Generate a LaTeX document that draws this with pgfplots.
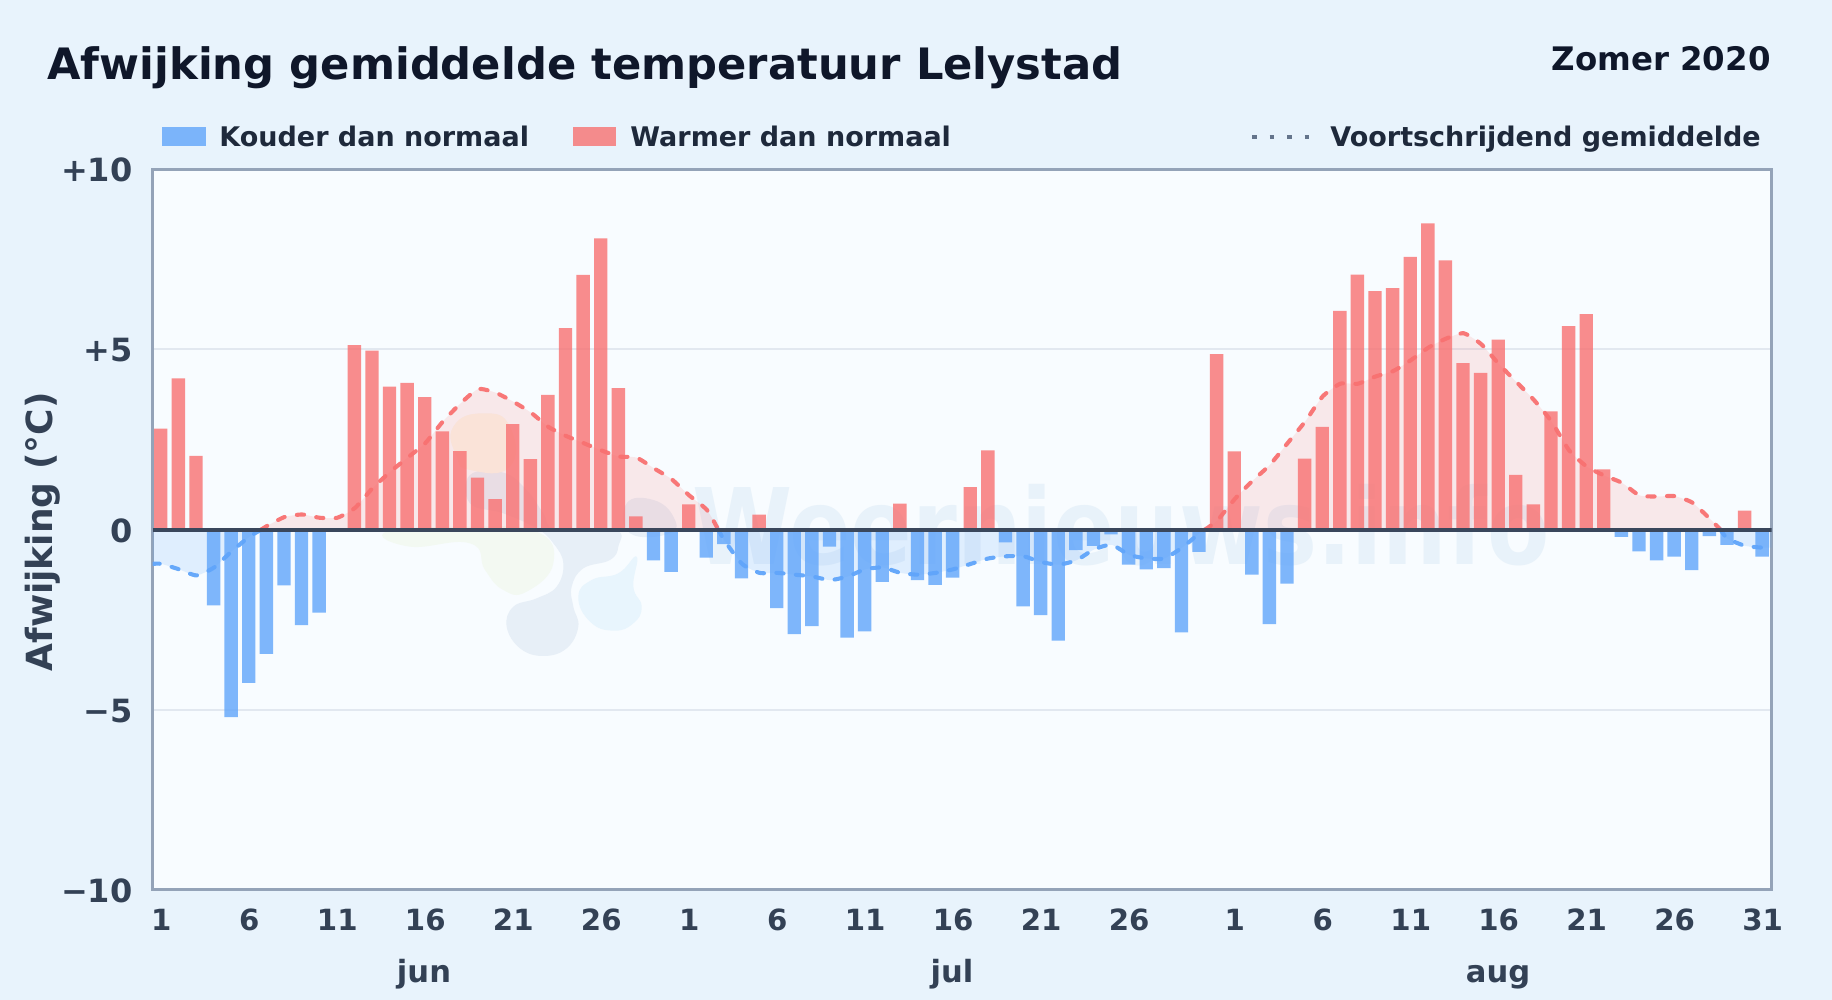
\documentclass[border=0pt]{standalone}
\usepackage{fontspec}
\setmainfont{DejaVu Sans}
\usepackage{pgfplots}
\pgfplotsset{compat=1.18}
\usepackage{pgfplotstable}
\definecolor{pagebg}{HTML}{E8F3FC}
\definecolor{plotbg}{HTML}{F8FCFF}
\definecolor{frame}{HTML}{94A3B8}
\definecolor{gridc}{HTML}{E2E8F0}
\definecolor{zeroc}{HTML}{3A475C}
\definecolor{cold}{HTML}{60A5FA}
\definecolor{warm}{HTML}{F87171}
\definecolor{titlec}{HTML}{0F172A}
\definecolor{legc}{HTML}{1E293B}
\definecolor{tickc}{HTML}{334155}
\definecolor{dotc}{HTML}{64748B}
\definecolor{wmtext}{HTML}{E8F2FA}
\definecolor{wmgray}{HTML}{E7EFF7}
\definecolor{wmgreen}{HTML}{F3F9F2}
\definecolor{wmblue}{HTML}{E8F5FD}
\definecolor{wmorange}{HTML}{FBF6E9}
\pgfplotstableread{
day dev
1 2.8
2 4.2
3 2.05
12 5.12
13 4.97
14 3.97
15 4.07
16 3.68
17 2.73
18 2.18
19 1.44
20 0.85
21 2.93
22 1.96
23 3.74
24 5.59
25 7.07
26 8.08
27 3.93
28 0.37
31 0.7
35 0.42
43 0.72
47 1.18
48 2.2
61 4.87
62 2.17
66 1.97
67 2.85
68 6.07
69 7.08
70 6.62
71 6.7
72 7.57
73 8.5
74 7.47
75 4.62
76 4.35
77 5.27
78 1.52
79 0.7
80 3.28
81 5.65
82 5.98
83 1.67
91 0.53
}\warmdata
\pgfplotstableread{
day dev
4 -2.1
5 -5.2
6 -4.25
7 -3.45
8 -1.55
9 -2.65
10 -2.3
29 -0.85
30 -1.17
32 -0.78
33 -0.4
34 -1.35
36 -2.18
37 -2.9
38 -2.68
39 -0.47
40 -3.0
41 -2.82
42 -1.45
44 -1.4
45 -1.53
46 -1.33
49 -0.35
50 -2.13
51 -2.37
52 -3.08
53 -0.57
54 -0.45
55 -0.13
56 -0.97
57 -1.1
58 -1.07
59 -2.85
60 -0.62
63 -1.25
64 -2.62
65 -1.5
84 -0.2
85 -0.6
86 -0.85
87 -0.75
88 -1.12
89 -0.18
90 -0.42
92 -0.75
}\colddata
\pgfplotstableread{
day avg
0.5 -0.95
1 -0.95
2 -1.1
3 -1.27
4 -1.05
5 -0.6
6 -0.2
6.67 0
}\avgA
\pgfplotstableread{
day avg
6.67 0
7 0.1
8 0.35
9 0.42
10 0.33
11 0.33
12 0.6
13 1.15
14 1.6
15 2.0
16 2.4
17 3.0
18 3.5
19 3.9
20 3.8
21 3.55
22 3.25
23 2.85
24 2.6
25 2.4
26 2.2
27 2.03
28 2.0
29 1.7
30 1.4
31 0.95
32 0.55
32.65 0
}\avgB
\pgfplotstableread{
day avg
32.65 0
33 -0.3
34 -0.95
35 -1.2
36 -1.2
37 -1.25
38 -1.3
39 -1.4
40 -1.3
41 -1.1
42 -1.05
43 -1.2
44 -1.25
45 -1.2
46 -1.1
47 -0.95
48 -0.8
49 -0.74
50 -0.74
51 -0.9
52 -0.97
53 -0.85
54 -0.55
55 -0.42
56 -0.7
57 -0.8
58 -0.8
59 -0.5
60 -0.1
60.3 0
}\avgC
\pgfplotstableread{
day avg
60.3 0
61 0.25
62 0.85
63 1.35
64 1.8
65 2.4
66 3.0
67 3.7
68 4.05
69 4.05
70 4.25
71 4.4
72 4.7
73 5.05
74 5.3
75 5.45
76 5.15
77 4.6
78 4.1
79 3.6
80 3.0
81 2.2
82 1.75
83 1.5
84 1.3
85 0.95
86 0.92
87 0.93
88 0.75
89 0.3
89.6 0
}\avgD
\pgfplotstableread{
day avg
89.6 0
90 -0.25
91 -0.45
92 -0.5
92.5 -0.5
}\avgE
\pgfplotsset{
  areaw/.style={draw=none,fill=warm,fill opacity=.14,smooth,tension=.35,forget plot},
  areac/.style={draw=none,fill=cold,fill opacity=.16,smooth,tension=.35,forget plot},
  linew/.style={warm,opacity=.95,line width=2.05pt,line cap=round,dash pattern=on 3.6pt off 6.2pt,smooth,tension=.35,no markers,forget plot},
  linec/.style={cold,opacity=.95,line width=2.05pt,line cap=round,dash pattern=on 3.6pt off 6.2pt,smooth,tension=.35,no markers,forget plot},
  barw/.style={ybar,bar shift=-0.03,bar width=0.76,draw=none,fill=warm,fill opacity=.8,forget plot},
  barc/.style={ybar,bar shift=-0.03,bar width=0.76,draw=none,fill=cold,fill opacity=.8,forget plot},
}
\begin{document}
\begin{tikzpicture}[x=0.5pt,y=0.5pt]
\fill[pagebg] (0,0) rectangle (1832,1000);
\fill[plotbg] (152.5,110) rectangle (1771.5,830.7);
% watermark logo
\begin{scope}[shift={(370,600)}]
\begin{scope}[x=0.16667pt,y=-0.16667pt]
\fill[wmgreen] plot[smooth cycle,tension=.8] coordinates {(50,395)(300,380)(500,395)(550,490)(470,575)(400,570)(345,510)(300,430)(120,440)};
\fill[wmgray] plot[smooth cycle,tension=.7] coordinates {(300,225)(400,218)(470,270)(520,340)(560,390)(735,390)(745,440)(720,480)(640,505)(605,560)(610,620)(625,680)(590,745)(520,768)(450,745)(410,680)(430,620)(500,595)(560,560)(580,490)(550,430)(500,385)(400,340)(300,310)};
\fill[wmgray] plot[smooth cycle,tension=.8] coordinates {(770,310)(850,300)(910,350)(900,400)(780,400)};
\fill[wmblue] plot[smooth cycle,tension=.8] coordinates {(625,590)(665,540)(745,520)(800,470)(790,560)(815,620)(790,670)(730,692)(660,665)};
\fill[wmorange] plot[smooth cycle,tension=.9] coordinates {(250,80)(340,40)(420,80)(420,200)(300,210)(260,170)};
\end{scope}
\end{scope}
\node[anchor=base west,inner sep=0pt,text=wmtext,font=\bfseries\fontsize{52.8}{60}\selectfont] at (692,435) {\scalebox{.86}[1]{Weernieuws.info}};
% titles
\node[anchor=base west,inner sep=0pt,text=titlec,font=\bfseries\fontsize{21.63}{25}\selectfont] at (47,920) {Afwijking gemiddelde temperatuur Lelystad};
\node[anchor=base east,inner sep=0pt,text=titlec,font=\bfseries\fontsize{16.2}{19}\selectfont] at (1771,929) {Zomer 2020};
% legend
\fill[cold,opacity=.8] (162,854) rectangle (206,873);
\node[anchor=base west,inner sep=0pt,text=legc,font=\bfseries\fontsize{13.5}{16}\selectfont] at (219,853) {Kouder dan normaal};
\fill[warm,opacity=.8] (573,854) rectangle (616,873);
\node[anchor=base west,inner sep=0pt,text=legc,font=\bfseries\fontsize{13.5}{16}\selectfont] at (630,853) {Warmer dan normaal};
\draw[dotc,line width=2.3pt,dash pattern=on 2.3pt off 6.45pt] (1252,863) -- (1312,863);
\node[anchor=base west,inner sep=0pt,text=legc,font=\bfseries\fontsize{13.5}{16}\selectfont] at (1330,853) {Voortschrijdend gemiddelde};
% y label and months
\node[rotate=90,anchor=base,inner sep=0pt,text=tickc,font=\bfseries\fontsize{18}{21}\selectfont] at (53,468) {Afwijking (°C)};
\node[anchor=base,inner sep=0pt,text=tickc,font=\bfseries\fontsize{15.3}{18}\selectfont] at (424,17) {jun};
\node[anchor=base,inner sep=0pt,text=tickc,font=\bfseries\fontsize{15.3}{18}\selectfont] at (952,17) {jul};
\node[anchor=base,inner sep=0pt,text=tickc,font=\bfseries\fontsize{15.3}{18}\selectfont] at (1498,17) {aug};
\begin{axis}[
  at={(76.25pt,55pt)},anchor=south west,
  scale only axis,width=809.5pt,height=360.35pt,
  xmin=0.5,xmax=92.5,ymin=-10,ymax=10,
  axis line style={frame,line width=1.5pt},
  ytick={-10,-5,0,5,10},
  yticklabels={−10,−5,0,+5,+10},
  xtick={1,6,11,16,21,26,31,36,41,46,51,56,62,67,72,77,82,87,92},
  xticklabels={1,6,11,16,21,26,1,6,11,16,21,26,1,6,11,16,21,26,31},
  major tick length=0pt,
  tick style={draw=none},
  ymajorgrids,
  grid style={gridc,line width=1pt},
  x tick label style={font=\bfseries\fontsize{14.6}{17}\selectfont,text=tickc,anchor=base,yshift=-20.5pt},
  y tick label style={font=\bfseries\fontsize{16}{19}\selectfont,text=tickc,anchor=east,xshift=-6.5pt,yshift=-0.5pt},
]
\addplot[areac] table[x=day,y=avg] {\avgA} \closedcycle;
\addplot[areaw] table[x=day,y=avg] {\avgB} \closedcycle;
\addplot[areac] table[x=day,y=avg] {\avgC} \closedcycle;
\addplot[areaw] table[x=day,y=avg] {\avgD} \closedcycle;
\addplot[areac] table[x=day,y=avg] {\avgE} \closedcycle;
\addplot[barw] table[x=day,y=dev] {\warmdata};
\addplot[barc] table[x=day,y=dev] {\colddata};
\addplot[linec] table[x=day,y=avg] {\avgA};
\addplot[linew] table[x=day,y=avg] {\avgB};
\addplot[linec] table[x=day,y=avg] {\avgC};
\addplot[linew] table[x=day,y=avg] {\avgD};
\addplot[linec] table[x=day,y=avg] {\avgE};
\addplot[zeroc,line width=2pt,forget plot,no markers] coordinates {(0.5,0) (92.5,0)};
\end{axis}
\end{tikzpicture}
\end{document}
